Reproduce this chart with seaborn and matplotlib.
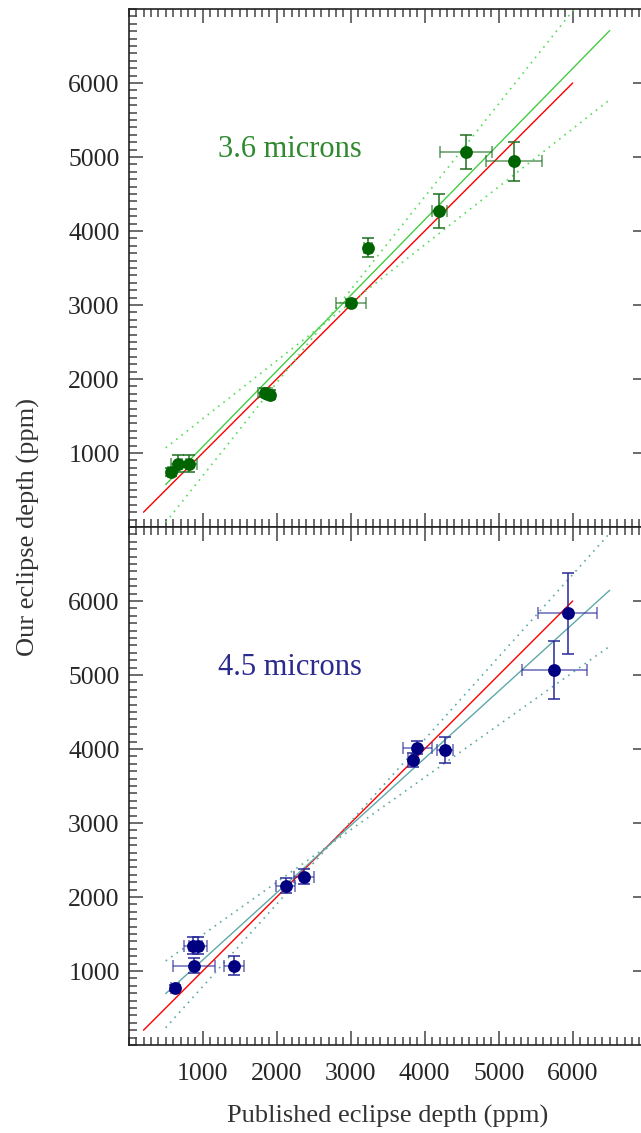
import numpy as np
import pandas as pd
import matplotlib
matplotlib.use("Agg")
import matplotlib.pyplot as plt
from matplotlib.ticker import MultipleLocator, FixedLocator
import seaborn as sns

sns.set_style("ticks")
plt.rcParams['font.family'] = ['Liberation Serif', 'DejaVu Serif']

# 3.6 micron eclipse depths (ppm)
top_x = [568, 670, 819, 1842, 1909, 3000, 3234, 4196, 4554, 5211]
top_y = [743, 857, 857, 1816, 1789, 3032, 3777, 4266, 5068, 4942]
top_xerr = [40, 100, 100, 100, 60, 200, 50, 100, 350, 380]
top_yerr = [50, 110, 110, 60, 60, 50, 135, 230, 234, 265]

# 4.5 micron eclipse depths (ppm)
bot_x = [626, 873, 941, 882, 1427, 2121, 2370, 3838, 3900, 4274, 5751, 5932]
bot_y = [765, 1342, 1342, 1072, 1072, 2153, 2277, 3851, 4018, 3986, 5068, 5833]
bot_xerr = [60, 120, 120, 280, 135, 130, 130, 60, 196, 112, 440, 403]
bot_yerr = [40, 113, 113, 100, 128, 100, 100, 100, 84, 176, 392, 543]

# linear fits (slope, intercept) and the two bounding lines
top_fit = (1.0225, 62)
top_band = [(0.784, 678), (1.257, -566)]
bot_fit = (0.9085, 240)
bot_band = [(0.7087, 782), (1.1135, -323)]

fit_range = [500, 6500]
one_to_one = [200, 6000]
tick_vals = [1000, 2000, 3000, 4000, 5000, 6000]

W, H = 641, 1133
fig = plt.figure(figsize=(W / 100, H / 100), dpi=100)
left = 128.7 / W
width = 518 / W
ax_top = fig.add_axes([left, 1 - 527 / H, width, 518 / H])
ax_bot = fig.add_axes([left, 1 - 1045 / H, width, 518 / H])


def draw_panel(ax, xs, ys, xe, ye, fit, band, pcol, ecol, lcol, dcol, label, tcol):
    xr = np.array(fit_range, dtype=float)
    ax.plot(one_to_one, one_to_one, color='red', lw=1.0, zorder=2)
    ax.plot(xr, fit[0] * xr + fit[1], color=lcol, lw=1.0, zorder=2)
    for m, b in band:
        ax.plot(xr, m * xr + b, color=dcol, lw=1.2, ls=(0, (1, 3)), zorder=2)
    # horizontal bars a bit lighter than the vertical ones
    ax.errorbar(xs, ys, xerr=xe, fmt='none', ecolor=ecol,
                elinewidth=1.3, capsize=4, capthick=1.3, alpha=0.6, zorder=3)
    ax.errorbar(xs, ys, yerr=ye, fmt='none', ecolor=ecol,
                elinewidth=1.3, capsize=4, capthick=1.3, alpha=0.85, zorder=3)
    df = pd.DataFrame({'x': xs, 'y': ys})
    sns.scatterplot(data=df, x='x', y='y', ax=ax, color=pcol, s=85,
                    edgecolor=pcol, linewidth=0, zorder=4)
    ax.text(1200, 5000, label, color=tcol, fontsize=22, ha='left', va='baseline')
    ax.set_xlim(0, 7000)
    ax.set_ylim(0, 7000)
    ax.xaxis.set_major_locator(FixedLocator(tick_vals))
    ax.yaxis.set_major_locator(FixedLocator(tick_vals))
    ax.xaxis.set_minor_locator(MultipleLocator(100))
    ax.yaxis.set_minor_locator(MultipleLocator(100))
    ax.tick_params(which='both', direction='in', top=True, right=True,
                   color='#444444', width=1.1)
    ax.tick_params(which='major', length=10)
    ax.tick_params(which='minor', length=6)
    ax.tick_params(axis='y', which='minor', right=False)
    ax.tick_params(axis='y', labelsize=18.5, pad=6.5)
    ax.tick_params(axis='x', labelsize=18.5, pad=13)
    for s in ax.spines.values():
        s.set_color('#222222')
        s.set_linewidth(1.2)
    ax.set_xlabel('')
    ax.set_ylabel('')


draw_panel(ax_top, top_x, top_y, top_xerr, top_yerr, top_fit, top_band,
           '#006400', '#1f6f1f', '#44cc44', '#55dd55', '3.6 microns', '#2f8a2f')
draw_panel(ax_bot, bot_x, bot_y, bot_xerr, bot_yerr, bot_fit, bot_band,
           '#000080', '#2a2a9a', '#5fa8a8', '#5fa8a8', '4.5 microns', '#2a2a8f')

ax_top.tick_params(axis='x', labelbottom=False)
ax_bot.set_xlabel('Published eclipse depth (ppm)', fontsize=19, color='#333333', labelpad=14)
fig.text(28 / W, 1 - 527 / H, 'Our eclipse depth (ppm)', rotation=90,
         fontsize=19, color='#333333', ha='center', va='center')

fig.savefig('out.png', dpi=100)
